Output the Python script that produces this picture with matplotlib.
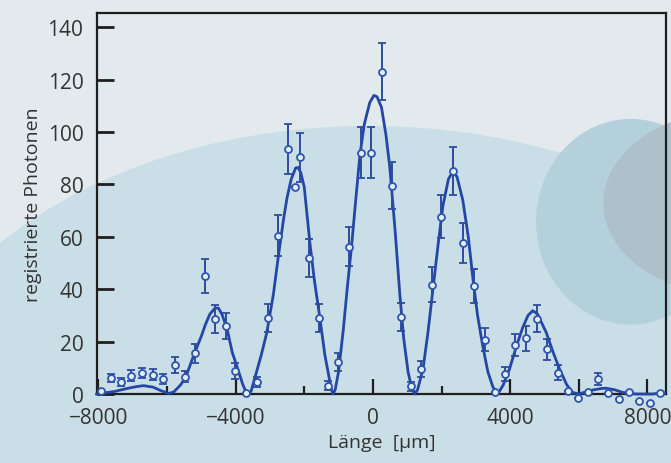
import matplotlib
matplotlib.use("Agg")
import matplotlib.pyplot as plt
from matplotlib.patches import Ellipse, Circle

# Messpunkte (Position in µm, registrierte Photonen, Fehler)
pos = [-7920, -7640, -7350, -7040, -6725, -6410, -6115, -5780, -5485, -5190,
       -4884, -4593, -4282, -4010, -3690, -3381, -3061, -2752, -2462, -2267,
       -2122, -1866, -1560, -1299, -1008, -689, -358, -67, 253, 544,
       820, 1125, 1416, 1720, 1997, 2335, 2635, 2950, 3256, 3570,
       3837, 4128, 4450, 4770, 5072, 5387, 5678, 5968, 6259, 6550,
       6855, 7160, 7461, 7762, 8073, 8368]
counts = [1.0, 6.1, 4.6, 7.0, 8.0, 7.4, 5.7, 11.1, 6.6, 15.5,
          44.9, 28.6, 26.1, 8.9, 0.5, 4.6, 29.0, 60.4, 93.5, 78.9,
          90.3, 52.0, 28.9, 3.2, 12.1, 56.3, 92.2, 92.2, 123.0, 79.5,
          29.3, 2.9, 9.5, 41.8, 67.6, 85.2, 57.6, 41.3, 20.8, 0.6,
          7.6, 18.8, 21.2, 28.8, 17.0, 8.2, 1.0, -1.5, 0.8, 5.8,
          0.2, -2.0, 0.8, -2.6, -3.3, 0.2]
err = [0.0, 1.6, 1.5, 2.0, 2.0, 2.0, 1.8, 2.9, 2.0, 3.5,
       6.5, 5.2, 5.0, 3.0, 0.0, 2.0, 5.3, 7.8, 9.5, 0.0,
       9.5, 7.2, 5.4, 1.8, 3.5, 7.5, 9.6, 9.6, 10.9, 8.9,
       5.4, 1.7, 3.0, 6.5, 8.2, 9.2, 7.6, 6.4, 4.5, 0.0,
       2.7, 4.3, 4.6, 5.3, 4.1, 2.9, 0.0, 0.0, 0.0, 2.4,
       0.0, 0.0, 0.0, 0.0, 0.0, 0.0]

# Ausgleichskurve
fit_x = [-8050, -7900, -7550, -7200, -6900, -6680, -6400, -6200, -5950, -5800,
         -5600, -5450, -5200, -5000, -4880, -4750, -4600, -4500, -4400, -4250,
         -4100, -3960, -3800, -3700, -3640, -3550, -3400, -3250, -3090, -2900,
         -2750, -2600, -2500, -2380, -2250, -2180, -2100, -2000, -1830, -1700,
         -1540, -1400, -1300, -1220, -1170, -1100, -1000, -860, -750, -620,
         -500, -380, -250, -90, 30, 120, 250, 380, 490, 650,
         785, 900, 1027, 1130, 1210, 1300, 1460, 1600, 1750, 1900,
         2040, 2200, 2330, 2450, 2620, 2780, 2916, 3050, 3200, 3350,
         3500, 3640, 3800, 3980, 4200, 4370, 4520, 4660, 4800, 5050,
         5250, 5440, 5650, 5820, 6000, 6200, 6400, 6650, 6800, 7050,
         7280, 7650, 8150, 8500]
fit_y = [0, 0.3, 0.9, 2.0, 2.8, 3.2, 2.6, 1.4, 0.2, 0.8,
         3.5, 6.5, 15.5, 22, 26.5, 30.5, 32.8, 32.8, 30.5, 25,
         16, 10.5, 4, 0.8, 0, 1, 8, 15, 23.5, 38,
         53, 67, 75, 82, 86.3, 86.5, 84.5, 79, 57, 43,
         28.6, 15, 8, 2.5, 0, 1.5, 8.5, 24.8, 40, 56.6,
         74, 91, 103, 111.3, 114, 113.5, 109.5, 99, 87, 62,
         38, 21, 8.3, 2.5, 0, 1.5, 9.5, 23, 40, 57,
         71.8, 82, 85, 83, 74, 60, 44, 30, 18.4, 8.5,
         2.6, 0, 3.5, 9.5, 19, 25.5, 30, 31.8, 30.5, 23.5,
         16, 9.5, 3.5, 0.6, 0, 0.8, 1.5, 2.1, 2.2, 1.6,
         0.6, 0, 0, 0.5]

xticks = [-8000, -4000, 0, 4000, 6000, 8000]
xticklabels = ["\u22128000", "\u22124000", "0", "4000", "", "8000"]
xminor = [-6000, -2000, 2000]
yticks = [0, 20, 40, 60, 80, 100, 120, 140]

plt.rcParams["font.family"] = ["Open Sans", "DejaVu Sans"]

fig = plt.figure(figsize=(6.71, 4.64), dpi=100, facecolor="#e2eaee")

# Hintergrund (Buchseite)
fig.patches.append(Ellipse((0.55, 0.0), 1.45, 1.45, transform=fig.transFigure,
                           color="#c9dee6", zorder=-10))
fig.patches.append(Ellipse((0.94, 0.52), 0.28, 0.44, transform=fig.transFigure,
                           color="#b4d1db", zorder=-9))
fig.patches.append(Circle((1.1, 0.56), 0.2, transform=fig.transFigure,
                          color="#aec1ca", zorder=-8))

ax = fig.add_axes([0.145, 0.1487, 0.8475, 0.8213])
ax.set_facecolor("none")

blue = "#2447a6"
ax.plot(fit_x, fit_y, color=blue, lw=2.0, zorder=3, clip_on=False)
ax.errorbar(pos, counts, yerr=err, fmt="o", ms=5, mfc="#e3edf2", mec="#2f56ad",
            mew=1.3, ecolor="#2e4c9e", elinewidth=1.4, capsize=3, capthick=1.4,
            zorder=4, clip_on=False)

ax.set_xlim(-8030, 8540)
ax.set_ylim(0, 145.5)

ax.set_xticks(xticks)
ax.set_xticklabels(xticklabels)
ax.set_xticks(xminor, minor=True)
ax.set_yticks(yticks)

for s in ax.spines.values():
    s.set_linewidth(1.6)
    s.set_color("#1e1e1e")

ax.tick_params(axis="x", which="major", direction="in", length=11, width=1.6,
               labelsize=15, pad=9, colors="#1e1e1e", labelcolor="#333333")
ax.tick_params(axis="x", which="minor", direction="in", length=6, width=1.6,
               colors="#1e1e1e")
ax.tick_params(axis="y", direction="in", length=12, width=2, labelsize=15,
               pad=10, colors="#1e1e1e", labelcolor="#333333")

ax.set_xlabel("Länge  [μm]", fontsize=14, color="#333333", labelpad=4)
ax.set_ylabel("registrierte Photonen", fontsize=14, color="#333333", labelpad=4)

fig.savefig("out.png", dpi=100, facecolor=fig.get_facecolor())
